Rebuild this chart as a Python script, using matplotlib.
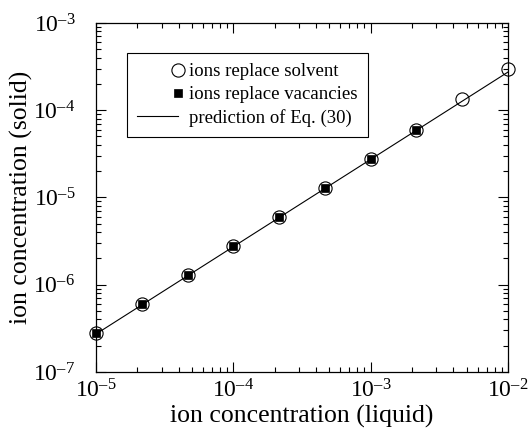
import numpy as np
import matplotlib
matplotlib.use("Agg")
import matplotlib.pyplot as plt
from matplotlib.legend_handler import HandlerLine2D
from matplotlib.ticker import FuncFormatter

plt.rcParams['font.family'] = ['Liberation Serif', 'DejaVu Serif']
plt.rcParams['mathtext.fontset'] = 'custom'
plt.rcParams['mathtext.rm'] = 'Liberation Serif'
plt.rcParams['mathtext.it'] = 'Liberation Serif:italic'

# --- data ---
x_solvent = [1.0e-5, 2.15e-5, 4.64e-5, 1.0e-4, 2.15e-4, 4.64e-4, 1.0e-3, 2.15e-3, 4.64e-3, 1.0e-2]
y_solvent = [2.78e-7, 5.97e-7, 1.29e-6, 2.78e-6, 5.97e-6, 1.29e-5, 2.79e-5, 5.98e-5, 1.33e-4, 2.99e-4]

x_vacancy = [1.0e-5, 2.15e-5, 4.64e-5, 1.0e-4, 2.15e-4, 4.64e-4, 1.0e-3, 2.15e-3]
y_vacancy = [2.76e-7, 5.95e-7, 1.28e-6, 2.76e-6, 5.95e-6, 1.28e-5, 2.76e-5, 5.95e-5]

x_pred = [1.0e-5, 1.0e-2]
y_pred = [2.72e-7, 2.74e-4]


class MarkerRight(HandlerLine2D):
    # put the single legend marker at the right end of the handle line
    def create_artists(self, *args, **kwargs):
        arts = super().create_artists(*args, **kwargs)
        arts[0].set_markevery([2])
        return arts


def pow10(v, pos):
    e = int(round(np.log10(v)))
    s = str(e).replace('-', '\u2013')
    return r'$\mathregular{10^{%s}}$' % s


fig = plt.figure(figsize=(5.32, 4.33), dpi=100)
ax = fig.add_axes([0.1805, 0.141, 0.7745, 0.806])

ax.plot(x_pred, y_pred, color='black', lw=0.8, label='prediction of Eq. (30)', zorder=1)
ax.plot(x_solvent, y_solvent, ls='none', marker='o', ms=9.5, mfc='none', mec='black',
        mew=0.8, label='ions replace solvent', zorder=3, clip_on=False)
ax.plot(x_vacancy, y_vacancy, ls='none', marker='s', ms=6, mfc='black', mec='black',
        mew=0.5, label='ions replace vacancies', zorder=2, clip_on=False)

ax.set_xscale('log')
ax.set_yscale('log')
ax.set_xlim(1e-5, 1e-2)
ax.set_ylim(1e-7, 1e-3)
ax.xaxis.set_major_formatter(FuncFormatter(pow10))
ax.yaxis.set_major_formatter(FuncFormatter(pow10))

ax.tick_params(which='both', direction='in', top=True, right=True, width=0.8, labelsize=17)
ax.tick_params(which='major', length=7)
ax.tick_params(which='minor', length=3.5)
ax.tick_params(axis='x', which='major', pad=5)
ax.tick_params(axis='y', which='major', pad=15)
for s in ax.spines.values():
    s.set_linewidth(0.9)

ax.set_xlabel('ion concentration (liquid)', fontsize=18.5, labelpad=2)
ax.set_ylabel('ion concentration (solid)', fontsize=18.5, labelpad=0)

h, l = ax.get_legend_handles_labels()
order = [1, 2, 0]
leg = ax.legend([h[i] for i in order], [l[i] for i in order],
                loc='upper left', bbox_to_anchor=(127 / 532, 1 - 53 / 433),
                bbox_transform=fig.transFigure, fontsize=13.5, numpoints=1,
                handlelength=2.15, handletextpad=0.6, labelspacing=0.3,
                borderpad=0.55, borderaxespad=0, fancybox=False, framealpha=1,
                handler_map={matplotlib.lines.Line2D: MarkerRight()})
leg.get_frame().set_edgecolor('black')
leg.get_frame().set_linewidth(0.8)

fig.savefig('out.png', dpi=100)
